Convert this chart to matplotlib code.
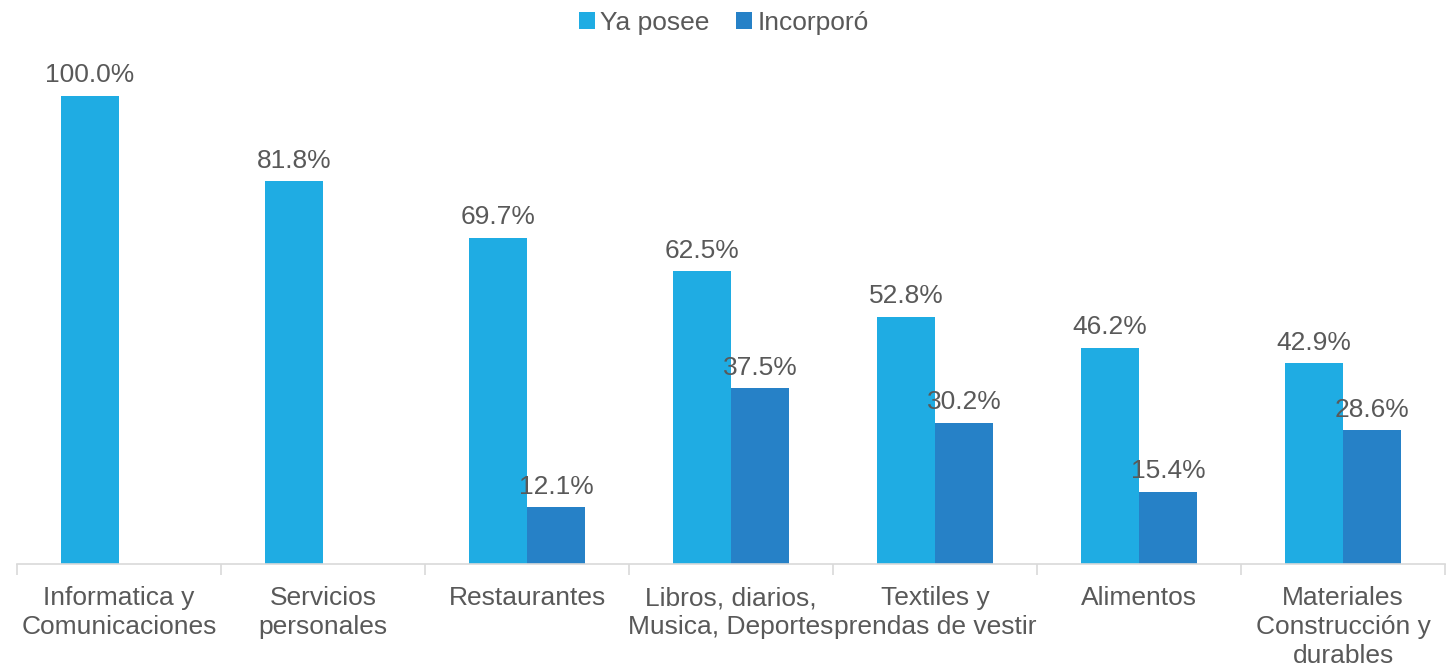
import numpy as np
import matplotlib
matplotlib.use("Agg")
import matplotlib.pyplot as plt

plt.rcParams['font.family'] = ['Liberation Sans', 'DejaVu Sans']

categorias = ["Informatica y\nComunicaciones", "Servicios\npersonales", "Restaurantes",
              "Libros, diarios,\nMusica, Deportes", "Textiles y\nprendas de vestir",
              "Alimentos", "Materiales\nConstrucción y\ndurables"]
ya_posee = [100.0, 81.8, 69.7, 62.5, 52.8, 46.2, 42.9]
incorporo = [0.0, 0.0, 12.1, 37.5, 30.2, 15.4, 28.6]

c1 = '#1FACE3'
c2 = '#2681C7'
gris = '#595959'
fs = 19

fig = plt.figure(figsize=(14.53, 6.71), dpi=100)
ax = fig.add_axes([0.0117, 0.1595, 0.9828, 0.7675])

x = np.arange(len(categorias))
w = 0.284
b1 = ax.bar(x - w/2, ya_posee, w, color=c1, label='Ya posee')
b2 = ax.bar(x + w/2, incorporo, w, color=c2, label='Incorporó')

for rect, v in zip(b1, ya_posee):
    ax.text(rect.get_x() + rect.get_width()/2, v + 1.8, '%.1f%%' % v,
            ha='center', va='bottom', fontsize=fs, color=gris)
for rect, v in zip(b2, incorporo):
    if v > 0:
        ax.text(rect.get_x() + rect.get_width()/2, v + 1.8, '%.1f%%' % v,
                ha='center', va='bottom', fontsize=fs, color=gris)

ax.set_xlim(-0.5, len(categorias) - 0.5)
ax.set_ylim(0, 110)
ax.set_yticks([])
for s in ['top', 'right', 'left']:
    ax.spines[s].set_visible(False)
ax.spines['bottom'].set_color('#d9d9d9')
ax.spines['bottom'].set_linewidth(1.2)

# separadores entre categorias
ax.set_xticks(np.arange(len(categorias) + 1) - 0.5)
ax.set_xticklabels([])
ax.tick_params(axis='x', length=8, color='#d9d9d9', width=1.2)
ax.set_xticks(x, minor=True)
ax.set_xticklabels(categorias, minor=True, fontsize=fs, color=gris, linespacing=1.27)
ax.tick_params(axis='x', which='minor', length=0, pad=16)

ax.legend(loc='upper center', bbox_to_anchor=(0.495, 1.12), ncol=2, frameon=False,
          fontsize=fs, labelcolor=gris, handlelength=0.6, handleheight=0.6,
          handletextpad=0.2, columnspacing=1.0)

fig.savefig('out.png', dpi=100)
